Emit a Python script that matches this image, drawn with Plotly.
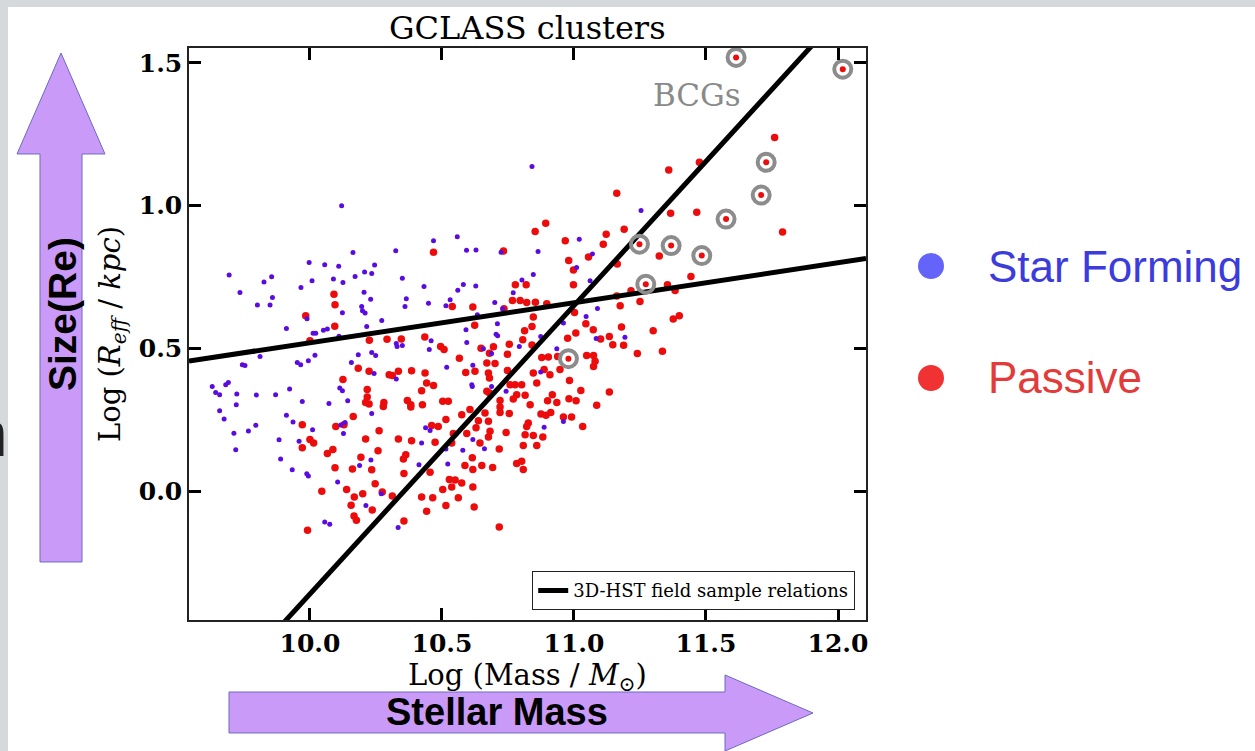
import plotly.graph_objects as go

# ---- star-forming galaxies: log stellar mass, log effective radius ----
sf_logm = [10.12, 10.163, 10.325, 9.997, 10.056, 10.109, 10.245, 10.207, 10.234, 10.171, 9.694, 9.826, 9.855,
           10.008, 10.089, 10.125, 10.35, 9.735, 9.966, 9.858, 10.205, 10.23, 10.365, 9.801, 9.849, 10.196,
           10.199, 10.209, 10.36, 10.123, 9.989, 10.272, 9.911, 10.012, 10.022, 10.051, 10.066, 10.11, 10.215,
           10.327, 10.33, 10.35, 10.234, 10.249, 10.183, 10.019, 9.788, 9.811,
           9.744, 9.754, 9.952, 9.965, 9.994, 10.157, 10.243, 10.327, 9.63, 9.681, 9.691, 9.643, 9.658, 9.723,
           9.797, 9.87, 9.923, 9.971, 10.072, 10.113, 10.123, 10.143, 9.721, 9.658, 9.675, 9.911, 9.936, 10.234,
           9.712, 9.767, 9.795, 10.01, 10.117, 10.133, 10.127, 9.883, 9.959, 9.719, 9.889, 9.933, 9.988, 9.994,
           10.231, 10.188, 10.105, 10.27, 10.212, 10.056, 10.075, 10.334, 10.413,
           11.254, 10.468, 10.558, 10.593, 10.629, 10.724, 10.864, 11.02, 11.07, 11.01, 10.846, 10.803, 10.581,
           10.628, 10.56, 10.432, 10.77, 11.061, 10.449, 10.515, 10.531, 10.70, 10.73, 10.634, 11.089, 11.046,
           10.96, 10.71, 10.591, 10.705, 10.711, 10.874, 10.594, 10.459, 10.793, 11.084, 11.193, 10.657, 10.688,
           10.452, 10.935,
           10.518, 10.617, 10.613, 10.615, 10.688, 10.743, 10.874, 10.438, 10.455, 10.423, 10.617, 10.579,
           10.661, 10.515, 10.522, 10.887, 10.96, 10.841]
sf_logre = [1.00, 0.836, 0.842, 0.801, 0.793, 0.788, 0.792, 0.768, 0.762, 0.752, 0.757, 0.733, 0.751,
            0.737, 0.743, 0.731, 0.746, 0.696, 0.713, 0.678, 0.697, 0.672, 0.674, 0.652, 0.652, 0.647,
            0.632, 0.624, 0.647, 0.625, 0.604, 0.598, 0.57, 0.553, 0.553, 0.564, 0.568, 0.543, 0.577,
            0.517, 0.507, 0.51, 0.486, 0.475, 0.478, 0.476, 0.49, 0.472,
            0.443, 0.44, 0.451, 0.443, 0.457, 0.451, 0.412, 0.393, 0.367, 0.373, 0.381, 0.346, 0.338, 0.34,
            0.337, 0.338, 0.358, 0.314, 0.307, 0.361, 0.352, 0.317, 0.303, 0.282, 0.253, 0.266, 0.242, 0.272,
            0.203, 0.211, 0.231, 0.215, 0.232, 0.241, 0.202, 0.18, 0.175, 0.145, 0.113, 0.075, 0.061, 0.053,
            0.109, 0.09, 0.032, -0.009, -0.05, -0.108, -0.116, -0.127, 0.093,
            0.983, 0.877, 0.891, 0.844, 0.845, 0.837, 0.839, 0.882, 0.831, 0.783, 0.759, 0.74, 0.724,
            0.719, 0.704, 0.717, 0.695, 0.737, 0.658, 0.649, 0.67, 0.661, 0.639, 0.618, 0.64, 0.612,
            0.589, 0.586, 0.565, 0.55, 0.544, 0.542, 0.521, 0.527, 0.507, 0.535, 0.539, 0.499, 0.482,
            0.496, 0.499,
            0.434, 0.441, 0.373, 0.367, 0.367, 0.35, 0.417, 0.222, 0.213, 0.169, 0.181, 0.143,
            0.149, 0.148, 0.095, 0.224, 0.244, 1.137]

# ---- passive galaxies ----
pas_logm = [10.091, 10.095, 9.984, 10.094, 10.0, 10.225, 10.292, 10.346,
            10.183, 10.224, 10.30, 10.312, 10.335, 10.385, 10.125, 10.217, 10.217, 10.211, 10.224, 10.28,
            10.278, 10.369, 10.382, 10.382, 10.164, 9.971, 10.098, 10.129, 10.262, 10.0, 10.014, 9.971,
            10.211, 10.335, 10.385, 10.258, 10.087, 10.066, 10.363, 10.354, 10.193, 10.095, 10.161, 10.234,
            10.356, 10.247, 10.045, 10.139, 10.168, 10.2, 10.274, 10.312, 10.156, 10.236, 10.167, 10.176,
            10.356, 9.991,
            10.893, 10.853, 10.468, 10.733, 10.967, 11.122, 11.111, 11.19, 10.98, 10.998, 11.055, 11.164,
            10.778, 10.819, 10.998, 10.767, 10.796, 10.821, 10.854, 10.897, 10.539, 10.617, 10.735, 10.846,
            10.841, 10.813, 10.624, 11.002, 11.045, 11.162, 11.175, 11.216, 11.25, 11.18, 10.435, 10.495,
            10.508, 10.648, 10.695, 10.68, 10.755, 10.748, 10.806, 10.841, 10.976, 11.007, 11.073, 11.101,
            11.134, 11.147, 11.188, 11.24, 11.048, 11.074, 10.903, 10.878, 10.566, 10.938,
            10.436, 10.442, 10.468, 10.423, 10.59, 10.625, 10.67, 10.701, 10.676, 10.68, 10.748, 10.67,
            10.68, 10.758, 10.777, 10.802, 10.859, 10.846, 10.887, 10.909, 10.947, 10.983, 11.026, 11.074,
            11.08, 11.134, 11.086, 10.981, 11.008, 10.918, 10.935, 10.9, 10.834, 10.783, 10.815, 10.77,
            10.72, 10.72, 10.72, 10.755, 10.875, 10.894, 10.912, 10.96, 10.991, 11.033, 10.827, 10.821,
            10.815, 10.846, 10.882, 10.808, 10.859, 10.743, 10.426, 10.503, 10.524, 10.575, 10.515, 10.606,
            10.638, 10.676, 10.663, 10.629, 10.682, 10.676, 10.644, 10.594, 10.717, 10.543, 10.486, 10.461,
            10.474, 10.537, 10.615, 10.651, 10.587, 10.617, 10.692, 10.783, 10.802, 10.808, 10.455, 10.528,
            10.55, 10.575, 10.537, 10.503, 10.617, 10.423, 10.465, 10.562, 10.515, 10.622, 10.442, 10.717,
            11.366, 11.465, 11.79, 11.323, 11.443, 11.354, 11.383, 11.399, 11.376, 11.3, 11.335,
            11.76, 11.475, 11.359, 11.162]
pas_logre = [0.69, 0.653, 0.614, 0.578, 0.527, 0.529, 0.532, 0.533,
             0.431, 0.42, 0.408, 0.405, 0.42, 0.422, 0.391, 0.356, 0.33, 0.311, 0.305, 0.311,
             0.297, 0.318, 0.303, 0.295, 0.262, 0.233, 0.227, 0.233, 0.212, 0.181, 0.169, 0.152,
             0.183, 0.183, 0.177, 0.142, 0.146, 0.132, 0.128, 0.113, 0.119, 0.082, 0.078, 0.075,
             0.062, 0.026, 0.0, 0.006, -0.02, -0.009, -0.003, -0.017, -0.049, -0.066, -0.087, -0.102,
             -0.104, -0.137,
             0.938, 0.909, 0.837, 0.841, 0.877, 0.9, 0.865, 0.917, 0.808, 0.775, 0.82, 0.796,
             0.723, 0.723, 0.723, 0.668, 0.668, 0.661, 0.662, 0.656, 0.647, 0.645, 0.639, 0.61,
             0.577, 0.562, 0.581, 0.626, 0.586, 0.684, 0.649, 0.702, 0.664, 0.575, 0.54, 0.507,
             0.496, 0.501, 0.506, 0.483, 0.515, 0.48, 0.53, 0.512, 0.536, 0.554, 0.565, 0.533,
             0.542, 0.513, 0.511, 0.482, 0.475, 0.475, 0.47, 0.468, 0.466, 0.472,
             0.414, 0.379, 0.37, 0.352, 0.416, 0.42, 0.449, 0.447, 0.414, 0.396, 0.423, 0.35,
             0.344, 0.373, 0.373, 0.373, 0.379, 0.414, 0.426, 0.408, 0.426, 0.388, 0.353, 0.437,
             0.455, 0.347, 0.301, 0.324, 0.317, 0.338, 0.311, 0.317, 0.303, 0.338, 0.336, 0.323,
             0.318, 0.295, 0.276, 0.272, 0.27, 0.266, 0.276, 0.26, 0.26, 0.227, 0.239, 0.227,
             0.198, 0.195, 0.19, 0.16, 0.16, 0.206, 0.303, 0.315, 0.315, 0.268, 0.251, 0.286,
             0.247, 0.245, 0.274, 0.222, 0.21, 0.19, 0.169, 0.202, 0.148, 0.202, 0.227, 0.23,
             0.171, 0.169, 0.117, 0.09, 0.09, 0.076, 0.083, 0.097, 0.105, 0.076, 0.066, 0.041,
             0.039, 0.029, 0.015, 0.006, 0.015, -0.02, -0.023, -0.023, -0.05, -0.055, -0.07, -0.125,
             0.973, 0.977, 0.908, 0.824, 0.752, 0.723, 0.703, 0.614, 0.603, 0.562, 0.49,
             1.239, 1.152, 1.125, 1.043]

# ---- brightest cluster galaxies ----
bcg_logm = [11.614, 12.018, 11.728, 11.709, 11.576, 11.248, 11.368, 11.484, 11.272, 10.979]
bcg_logre = [1.519, 1.478, 1.152, 1.037, 0.953, 0.865, 0.86, 0.825, 0.725, 0.464]

# ---- 3D-HST field size-mass relations: (pivot mass, size at pivot, slope) ----
rel_pivot = 11.0
rel_passive = (0.65, 1.01)
rel_starforming = (0.66, 0.14)

x_range = [9.542, 12.106]
y_range = [-0.451, 1.552]
x_ticks = [10.0, 10.5, 11.0, 11.5, 12.0]
y_ticks = [0.0, 0.5, 1.0, 1.5]

# page layout in pixels
FIG_W, FIG_H = 1255, 751
L, R, T, B = 189, 866, 48, 620
PW, PH = R - L, B - T


def px(x):
    return (x - L) / PW


def py(y):
    return (B - y) / PH


SERIF = "DejaVu Serif"
SANS = "Liberation Sans"

fig = go.Figure()

fig.add_trace(go.Scatter(x=pas_logm, y=pas_logre, mode="markers", showlegend=False,
                         marker=dict(size=7.5, color="#ec0c0c")))
fig.add_trace(go.Scatter(x=sf_logm, y=sf_logre, mode="markers", showlegend=False,
                         marker=dict(size=5, color="#5a0ce0")))

for i, (y0, slope) in enumerate([rel_passive, rel_starforming]):
    xs = list(x_range)
    ys = [y0 + slope * (v - rel_pivot) for v in xs]
    fig.add_trace(go.Scatter(x=xs, y=ys, mode="lines", line=dict(color="black", width=5),
                             name="3D-HST field sample relations", legendgroup="rel",
                             showlegend=(i == 0)))

fig.add_trace(go.Scatter(x=bcg_logm, y=bcg_logre, mode="markers", showlegend=False, cliponaxis=False,
                         marker=dict(symbol="circle-open", size=17, color="#8c8c8c",
                                     line=dict(width=4, color="#8c8c8c"))))
fig.add_trace(go.Scatter(x=bcg_logm, y=bcg_logre, mode="markers", showlegend=False, cliponaxis=False,
                         marker=dict(size=6, color="#ec0c0c")))

axis_common = dict(showgrid=False, zeroline=False, showline=True, linecolor="#222", linewidth=1.5,
                   mirror="ticks", ticks="inside", ticklen=12, tickwidth=2.5, tickcolor="black",
                   tickfont=dict(family=SERIF, size=25, color="black", weight="bold"))

fig.update_xaxes(range=x_range, tickvals=x_ticks, ticktext=[f"{v:.1f}" for v in x_ticks],
                 title=dict(text="Log (Mass / <i>M</i><sub>⊙</sub>)", standoff=2,
                            font=dict(family=SERIF, size=29, color="black")),
                 **axis_common)
fig.update_yaxes(range=y_range, tickvals=y_ticks, ticktext=[f"{v:.1f}" for v in y_ticks],
                 title=dict(text="Log (<i>R</i><sub><i>eff</i></sub> / <i>kpc</i>)", standoff=10,
                            font=dict(family=SERIF, size=29, color="black")),
                 **axis_common)

shapes = []
# slide border strips
shapes.append(dict(type="rect", xref="paper", yref="paper", x0=px(0), x1=px(8), y0=py(FIG_H), y1=py(0),
                   fillcolor="#d5d9dc", line=dict(width=0), layer="below"))
shapes.append(dict(type="rect", xref="paper", yref="paper", x0=px(0), x1=px(FIG_W), y0=py(7), y1=py(0),
                   fillcolor="#d5d9dc", line=dict(width=0), layer="below"))


def poly(points):
    return "M " + " L ".join(f"{px(a):.5f},{py(b):.5f}" for a, b in points) + " Z"


arrow_style = dict(type="path", xref="paper", yref="paper", fillcolor="#c99af7",
                   line=dict(color="#6b6bbf", width=1), layer="below")
shapes.append(dict(path=poly([(40, 562), (82, 562), (82, 154), (105, 154), (61, 53), (17, 154), (40, 154)]),
                   **arrow_style))
shapes.append(dict(path=poly([(229, 692), (725, 692), (725, 675), (813, 713), (725, 751), (725, 733),
                              (229, 733)]), **arrow_style))

# class key to the right of the panel
for cy, col in [(266, "#6464fa"), (378, "#f03232")]:
    shapes.append(dict(type="circle", xref="paper", yref="paper", xsizemode="pixel", ysizemode="pixel",
                       xanchor=px(931), yanchor=py(cy), x0=-13, x1=13, y0=-13, y1=13,
                       fillcolor=col, line=dict(width=0)))

annotations = [
    dict(text="GCLASS clusters", x=0.5, y=py(28), xref="paper", yref="paper", showarrow=False,
         xanchor="center", yanchor="middle", font=dict(family=SERIF, size=32, color="black")),
    dict(text="BCGs", x=px(697), y=py(95), xref="paper", yref="paper", showarrow=False,
         xanchor="center", yanchor="middle", font=dict(family=SERIF, size=31, color="#8a8a8a")),
    dict(text="Star Forming", x=px(986), y=py(266), xref="paper", yref="paper", showarrow=False,
         xanchor="left", yanchor="middle", font=dict(family=SANS, size=44, color="#3c3cdc")),
    dict(text="Passive", x=px(986), y=py(378), xref="paper", yref="paper", showarrow=False,
         xanchor="left", yanchor="middle", font=dict(family=SANS, size=44, color="#e33a3a")),
    dict(text="<b>Size(Re)</b>", x=px(62), y=py(314), xref="paper", yref="paper", showarrow=False,
         textangle=-90, xanchor="center", yanchor="middle", font=dict(family=SANS, size=39, color="black")),
    dict(text="<b>Stellar Mass</b>", x=px(497), y=py(712), xref="paper", yref="paper", showarrow=False,
         xanchor="center", yanchor="middle", font=dict(family=SANS, size=38, color="black")),
    # tail of slide text running off the left edge
    dict(text="h", x=px(10), y=py(434), xref="paper", yref="paper", showarrow=False,
         xanchor="right", yanchor="middle", font=dict(family=SANS, size=64, color="#222")),
]

fig.update_layout(
    width=FIG_W, height=FIG_H, autosize=False,
    margin=dict(l=L, r=FIG_W - R, t=T, b=FIG_H - B, pad=0),
    paper_bgcolor="white", plot_bgcolor="white",
    shapes=shapes, annotations=annotations,
    legend=dict(x=px(855), xanchor="right", y=py(610), yanchor="bottom", bgcolor="white",
                bordercolor="#222", borderwidth=1.2, font=dict(family=SERIF, size=18, color="black")),
)

fig.write_html("out.html")
